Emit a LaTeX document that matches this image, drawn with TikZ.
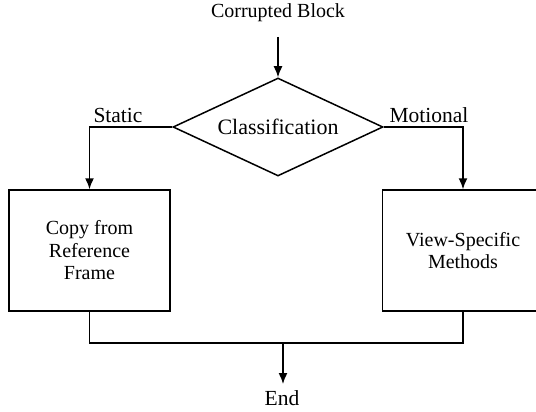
\documentclass[tikz,border=0pt]{standalone}
\usepackage{fontspec}
\setmainfont{Liberation Serif}
\usetikzlibrary{arrows.meta,shapes.geometric}
\tikzset{
  line/.style={line width=1.5pt},
  arr/.style={line, -{Latex[length=11pt,width=9pt]}},
  txt/.style={font=\fontsize{20}{22.5}\selectfont, inner sep=0pt},
  lbl/.style={font=\fontsize{21.5}{24}\selectfont, inner sep=0pt, anchor=base},
  box/.style={line, draw, rectangle, minimum width=161pt, minimum height=121pt, align=center, inner sep=0pt, font=\fontsize{20}{22.5}\selectfont},
  dia/.style={line, draw, diamond, aspect=2.14, minimum width=210pt, minimum height=98pt, inner sep=0pt, font=\fontsize{22}{24}\selectfont}
}
\begin{document}
\begin{tikzpicture}[x=1pt,y=-1pt]
\clip (0,0) rectangle (536,412);
\fill[white] (0,0) rectangle (536,412);
\node[txt, anchor=base] (start) at (278,18) {Corrupted Block};
\coordinate (s0) at (278,37);
\node[dia] (cls) at (278,127) {Classification};
\node[box] (lbox) at (89.5,250.5) {Copy from\\Reference\\Frame};
\node[box] (rbox) at (463,250.5) {View-Specific\\Methods};
\node[lbl] (st) at (118,122) {Static};
\node[lbl] (mo) at (429,122) {Motional};
\node[lbl] (en) at (282,405) {End};
\coordinate (mid) at (283,342);
\coordinate (endtop) at (283,384);
\draw[arr] (s0) -- (cls.north);
\draw[arr] (cls.west) -| (lbox.north);
\draw[arr] (cls.east) -| (rbox.north);
\draw[line] (lbox.south) -- ++(0,31) -| (rbox.south);
\draw[arr] (mid) -- (endtop);
\end{tikzpicture}
\end{document}
